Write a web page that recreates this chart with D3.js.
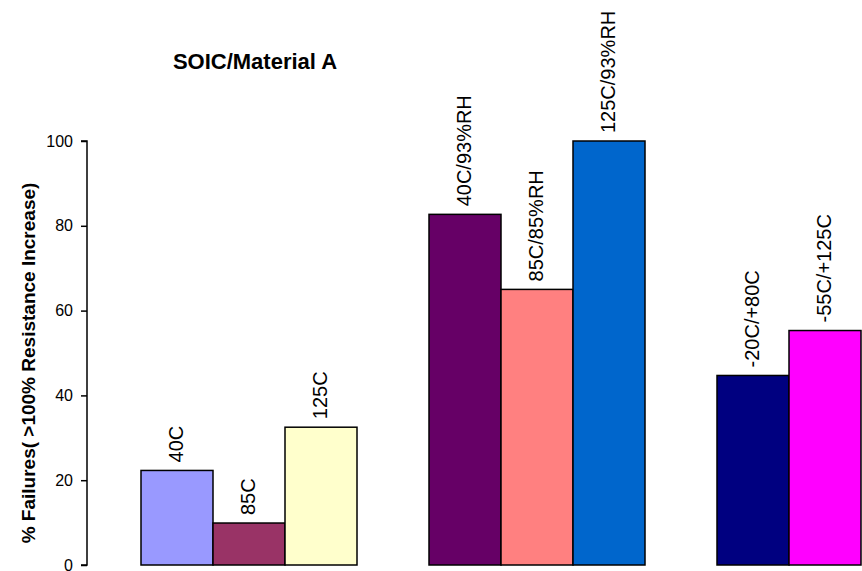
<!DOCTYPE html>
<html>
<head>
<meta charset="utf-8">
<script src="https://cdn.jsdelivr.net/npm/d3@7"></script>
<style>
  html, body { margin: 0; padding: 0; background: #fff; }
  svg { display: block; font-family: "Liberation Sans", Arial, sans-serif; }
</style>
</head>
<body>
<svg id="chart" width="862" height="571"></svg>
<script>
// Test conditions, grouped by stress type
const groups = ["Temperature", "Humidity", "Cycling"];
const groupConditions = [
  ["40C", "85C", "125C"],
  ["40C/93%RH", "85C/85%RH", "125C/93%RH"],
  ["-20C/+80C", "-55C/+125C"]
];
// % failures per condition
const groupValues = [
  [22.3, 9.9, 32.5],
  [82.7, 65.0, 100],
  [44.7, 55.3]
];
const barColors = [
  ["#9999FF", "#993366", "#FFFFCC"],
  ["#660066", "#FF8080", "#0066CC"],
  ["#000080", "#FF00FF"]
];
const yTicks = [0, 20, 40, 60, 80, 100];
const chartTitle = "SOIC/Material A";
const yTitle = "% Failures( >100% Resistance Increase)";

const svg = d3.select("#chart");
const plot = { left: 87, top: 141, bottom: 565, barsLeft: 141, barsRight: 861 };

// Flatten into bars, with one empty slot between groups
const bars = [];
const slots = [];
groups.forEach((g, gi) => {
  groupConditions[gi].forEach((c, ci) => {
    const key = g + "|" + c;
    slots.push(key);
    bars.push({ key, label: c, value: groupValues[gi][ci], color: barColors[gi][ci] });
  });
  if (gi < groups.length - 1) slots.push("gap-" + gi);
});

const x = d3.scaleBand().domain(slots).range([plot.barsLeft, plot.barsRight]).padding(0);
const y = d3.scaleLinear().domain([0, 100]).range([plot.bottom, plot.top]);

// Bars
svg.append("g").selectAll("rect").data(bars).join("rect")
  .attr("x", d => x(d.key))
  .attr("y", d => y(d.value))
  .attr("width", x.bandwidth())
  .attr("height", d => y(0) - y(d.value))
  .attr("fill", d => d.color)
  .attr("stroke", "#000")
  .attr("stroke-width", 1.5);

// Condition labels above each bar
svg.append("g").selectAll("text").data(bars).join("text")
  .attr("transform", d => `translate(${x(d.key) + x.bandwidth() / 2 + 6},${y(d.value) - 8}) rotate(-90)`)
  .attr("text-anchor", "start")
  .attr("font-size", 20)
  .attr("fill", "#000")
  .text(d => d.label);

// Y axis
const yAxis = d3.axisLeft(y).tickValues(yTicks).tickSize(6).tickPadding(8).tickFormat(d3.format("d"));
const gy = svg.append("g").attr("transform", `translate(${plot.left},0)`).call(yAxis);
gy.select(".domain").attr("stroke", "#000").attr("stroke-width", 1.5)
  .attr("d", `M-6,${plot.top}H0V${plot.bottom}H-6`);
gy.selectAll(".tick line").attr("stroke", "#000").attr("stroke-width", 1.5);
gy.selectAll(".tick text").attr("font-size", 16).attr("fill", "#000")
  .attr("font-family", "Liberation Sans, Arial, sans-serif");

// Y axis title
svg.append("text")
  .attr("transform", `translate(35,${(plot.top + plot.bottom) / 2 + 10}) rotate(-90)`)
  .attr("text-anchor", "middle")
  .attr("font-size", 19)
  .attr("font-weight", "bold")
  .attr("fill", "#000")
  .text(yTitle);

// Chart title
svg.append("text")
  .attr("x", 255)
  .attr("y", 69)
  .attr("text-anchor", "middle")
  .attr("font-size", 22)
  .attr("font-weight", "bold")
  .attr("fill", "#000")
  .text(chartTitle);
</script>
</body>
</html>
